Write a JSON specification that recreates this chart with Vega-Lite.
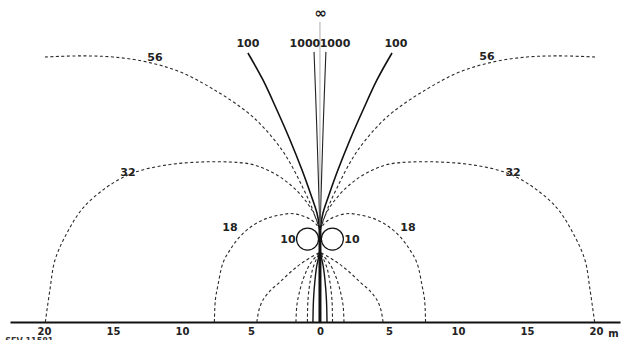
{
  "$schema": "https://vega.github.io/schema/vega-lite/v6.json",
  "width": 610,
  "height": 322,
  "autosize": {"type": "none"},
  "padding": {"left": 10, "top": 0, "right": 6, "bottom": 18},
  "background": "white",
  "config": {"view": {"stroke": null}},
  "datasets": {
    "curves": [
      {"c":"56L","k":"dash","o":1,"x":-19.93,"y":19.20},{"c":"56L","k":"dash","o":2,"x":-17.39,"y":19.28},{"c":"56L","k":"dash","o":3,"x":-15.00,"y":19.20},{"c":"56L","k":"dash","o":4,"x":-12.54,"y":18.84},{"c":"56L","k":"dash","o":5,"x":-10.14,"y":18.12},{"c":"56L","k":"dash","o":6,"x":-7.75,"y":16.88},{"c":"56L","k":"dash","o":7,"x":-5.29,"y":15.22},{"c":"56L","k":"dash","o":8,"x":-3.99,"y":13.99},{"c":"56L","k":"dash","o":9,"x":-2.75,"y":12.46},{"c":"56L","k":"dash","o":10,"x":-1.96,"y":11.16},{"c":"56L","k":"dash","o":11,"x":-1.23,"y":9.71},{"c":"56L","k":"dash","o":12,"x":-0.72,"y":8.62},{"c":"56L","k":"dash","o":13,"x":-0.36,"y":7.68},{"c":"56L","k":"dash","o":14,"x":0,"y":6.67},
      {"c":"56R","k":"dash","o":1,"x":19.93,"y":19.20},{"c":"56R","k":"dash","o":2,"x":17.39,"y":19.28},{"c":"56R","k":"dash","o":3,"x":15.00,"y":19.20},{"c":"56R","k":"dash","o":4,"x":12.54,"y":18.84},{"c":"56R","k":"dash","o":5,"x":10.14,"y":18.12},{"c":"56R","k":"dash","o":6,"x":7.75,"y":16.88},{"c":"56R","k":"dash","o":7,"x":5.29,"y":15.22},{"c":"56R","k":"dash","o":8,"x":3.99,"y":13.99},{"c":"56R","k":"dash","o":9,"x":2.75,"y":12.46},{"c":"56R","k":"dash","o":10,"x":1.96,"y":11.16},{"c":"56R","k":"dash","o":11,"x":1.23,"y":9.71},{"c":"56R","k":"dash","o":12,"x":0.72,"y":8.62},{"c":"56R","k":"dash","o":13,"x":0.36,"y":7.68},{"c":"56R","k":"dash","o":14,"x":0,"y":6.67},
      {"c":"32L","k":"dash","o":1,"x":-19.9,"y":0},{"c":"32L","k":"dash","o":2,"x":-19.57,"y":2.32},{"c":"32L","k":"dash","o":3,"x":-19.20,"y":4.49},{"c":"32L","k":"dash","o":4,"x":-18.33,"y":6.45},{"c":"32L","k":"dash","o":5,"x":-17.17,"y":8.26},{"c":"32L","k":"dash","o":6,"x":-15.43,"y":9.78},{"c":"32L","k":"dash","o":7,"x":-13.55,"y":10.80},{"c":"32L","k":"dash","o":8,"x":-11.09,"y":11.38},{"c":"32L","k":"dash","o":9,"x":-8.70,"y":11.59},{"c":"32L","k":"dash","o":10,"x":-6.52,"y":11.59},{"c":"32L","k":"dash","o":11,"x":-5.07,"y":11.45},{"c":"32L","k":"dash","o":12,"x":-3.99,"y":11.09},{"c":"32L","k":"dash","o":13,"x":-2.90,"y":10.51},{"c":"32L","k":"dash","o":14,"x":-1.96,"y":9.78},{"c":"32L","k":"dash","o":15,"x":-1.09,"y":8.84},{"c":"32L","k":"dash","o":16,"x":-0.43,"y":7.83},{"c":"32L","k":"dash","o":17,"x":0,"y":6.67},
      {"c":"32R","k":"dash","o":1,"x":19.9,"y":0},{"c":"32R","k":"dash","o":2,"x":19.57,"y":2.32},{"c":"32R","k":"dash","o":3,"x":19.20,"y":4.49},{"c":"32R","k":"dash","o":4,"x":18.33,"y":6.45},{"c":"32R","k":"dash","o":5,"x":17.17,"y":8.26},{"c":"32R","k":"dash","o":6,"x":15.43,"y":9.78},{"c":"32R","k":"dash","o":7,"x":13.55,"y":10.80},{"c":"32R","k":"dash","o":8,"x":11.09,"y":11.38},{"c":"32R","k":"dash","o":9,"x":8.70,"y":11.59},{"c":"32R","k":"dash","o":10,"x":6.52,"y":11.59},{"c":"32R","k":"dash","o":11,"x":5.07,"y":11.45},{"c":"32R","k":"dash","o":12,"x":3.99,"y":11.09},{"c":"32R","k":"dash","o":13,"x":2.90,"y":10.51},{"c":"32R","k":"dash","o":14,"x":1.96,"y":9.78},{"c":"32R","k":"dash","o":15,"x":1.09,"y":8.84},{"c":"32R","k":"dash","o":16,"x":0.43,"y":7.83},{"c":"32R","k":"dash","o":17,"x":0,"y":6.67},
      {"c":"18L","k":"dash","o":1,"x":-7.65,"y":0},{"c":"18L","k":"dash","o":2,"x":-7.58,"y":1.59},{"c":"18L","k":"dash","o":3,"x":-7.39,"y":2.68},{"c":"18L","k":"dash","o":4,"x":-7.03,"y":4.28},{"c":"18L","k":"dash","o":5,"x":-6.52,"y":5.22},{"c":"18L","k":"dash","o":6,"x":-6.01,"y":5.94},{"c":"18L","k":"dash","o":7,"x":-5.29,"y":6.67},{"c":"18L","k":"dash","o":8,"x":-4.57,"y":7.17},{"c":"18L","k":"dash","o":9,"x":-3.77,"y":7.54},{"c":"18L","k":"dash","o":10,"x":-2.90,"y":7.75},{"c":"18L","k":"dash","o":11,"x":-2.17,"y":7.86},{"c":"18L","k":"dash","o":12,"x":-1.45,"y":7.75},{"c":"18L","k":"dash","o":13,"x":-0.72,"y":7.46},{"c":"18L","k":"dash","o":14,"x":-0.29,"y":7.10},{"c":"18L","k":"dash","o":15,"x":0,"y":6.67},
      {"c":"18R","k":"dash","o":1,"x":7.65,"y":0},{"c":"18R","k":"dash","o":2,"x":7.58,"y":1.59},{"c":"18R","k":"dash","o":3,"x":7.39,"y":2.68},{"c":"18R","k":"dash","o":4,"x":7.03,"y":4.28},{"c":"18R","k":"dash","o":5,"x":6.52,"y":5.22},{"c":"18R","k":"dash","o":6,"x":6.01,"y":5.94},{"c":"18R","k":"dash","o":7,"x":5.29,"y":6.67},{"c":"18R","k":"dash","o":8,"x":4.57,"y":7.17},{"c":"18R","k":"dash","o":9,"x":3.77,"y":7.54},{"c":"18R","k":"dash","o":10,"x":2.90,"y":7.75},{"c":"18R","k":"dash","o":11,"x":2.17,"y":7.86},{"c":"18R","k":"dash","o":12,"x":1.45,"y":7.75},{"c":"18R","k":"dash","o":13,"x":0.72,"y":7.46},{"c":"18R","k":"dash","o":14,"x":0.29,"y":7.10},{"c":"18R","k":"dash","o":15,"x":0,"y":6.67},
      {"c":"g46L","k":"dash","o":1,"x":-4.57,"y":0},{"c":"g46L","k":"dash","o":2,"x":-4.42,"y":0.87},{"c":"g46L","k":"dash","o":3,"x":-4.13,"y":1.59},{"c":"g46L","k":"dash","o":4,"x":-3.62,"y":2.25},{"c":"g46L","k":"dash","o":5,"x":-2.90,"y":2.90},{"c":"g46L","k":"dash","o":6,"x":-1.96,"y":3.77},{"c":"g46L","k":"dash","o":7,"x":-1.09,"y":4.42},{"c":"g46L","k":"dash","o":8,"x":0,"y":5.07},
      {"c":"g46R","k":"dash","o":1,"x":4.57,"y":0},{"c":"g46R","k":"dash","o":2,"x":4.42,"y":0.87},{"c":"g46R","k":"dash","o":3,"x":4.13,"y":1.59},{"c":"g46R","k":"dash","o":4,"x":3.62,"y":2.25},{"c":"g46R","k":"dash","o":5,"x":2.90,"y":2.90},{"c":"g46R","k":"dash","o":6,"x":1.96,"y":3.77},{"c":"g46R","k":"dash","o":7,"x":1.09,"y":4.42},{"c":"g46R","k":"dash","o":8,"x":0,"y":5.07},
      {"c":"g17L","k":"dash","o":1,"x":-1.74,"y":0},{"c":"g17L","k":"dash","o":2,"x":-1.67,"y":1.23},{"c":"g17L","k":"dash","o":3,"x":-1.45,"y":2.32},{"c":"g17L","k":"dash","o":4,"x":-1.16,"y":3.26},{"c":"g17L","k":"dash","o":5,"x":-0.72,"y":4.20},{"c":"g17L","k":"dash","o":6,"x":0,"y":5.07},
      {"c":"g17R","k":"dash","o":1,"x":1.74,"y":0},{"c":"g17R","k":"dash","o":2,"x":1.67,"y":1.23},{"c":"g17R","k":"dash","o":3,"x":1.45,"y":2.32},{"c":"g17R","k":"dash","o":4,"x":1.16,"y":3.26},{"c":"g17R","k":"dash","o":5,"x":0.72,"y":4.20},{"c":"g17R","k":"dash","o":6,"x":0,"y":5.07},
      {"c":"g09L","k":"dash","o":1,"x":-0.91,"y":0},{"c":"g09L","k":"dash","o":2,"x":-0.87,"y":1.59},{"c":"g09L","k":"dash","o":3,"x":-0.72,"y":2.90},{"c":"g09L","k":"dash","o":4,"x":-0.51,"y":3.91},{"c":"g09L","k":"dash","o":5,"x":-0.22,"y":4.64},{"c":"g09L","k":"dash","o":6,"x":0,"y":5.07},
      {"c":"g09R","k":"dash","o":1,"x":0.91,"y":0},{"c":"g09R","k":"dash","o":2,"x":0.87,"y":1.59},{"c":"g09R","k":"dash","o":3,"x":0.72,"y":2.90},{"c":"g09R","k":"dash","o":4,"x":0.51,"y":3.91},{"c":"g09R","k":"dash","o":5,"x":0.22,"y":4.64},{"c":"g09R","k":"dash","o":6,"x":0,"y":5.07},
      {"c":"100L","k":"s100","o":1,"x":-5.22,"y":19.49},{"c":"100L","k":"s100","o":2,"x":-4.13,"y":17.54},{"c":"100L","k":"s100","o":3,"x":-3.12,"y":15.36},{"c":"100L","k":"s100","o":4,"x":-2.17,"y":13.19},{"c":"100L","k":"s100","o":5,"x":-1.30,"y":11.01},{"c":"100L","k":"s100","o":6,"x":-0.65,"y":9.20},{"c":"100L","k":"s100","o":7,"x":-0.22,"y":7.90},{"c":"100L","k":"s100","o":8,"x":0,"y":6.67},
      {"c":"100R","k":"s100","o":1,"x":5.22,"y":19.49},{"c":"100R","k":"s100","o":2,"x":4.13,"y":17.54},{"c":"100R","k":"s100","o":3,"x":3.12,"y":15.36},{"c":"100R","k":"s100","o":4,"x":2.17,"y":13.19},{"c":"100R","k":"s100","o":5,"x":1.30,"y":11.01},{"c":"100R","k":"s100","o":6,"x":0.65,"y":9.20},{"c":"100R","k":"s100","o":7,"x":0.22,"y":7.90},{"c":"100R","k":"s100","o":8,"x":0,"y":6.67},
      {"c":"1000L","k":"s1000","o":1,"x":-0.43,"y":19.57},{"c":"1000L","k":"s1000","o":2,"x":-0.25,"y":14.64},{"c":"1000L","k":"s1000","o":3,"x":-0.09,"y":9.57},{"c":"1000L","k":"s1000","o":4,"x":0,"y":6.67},
      {"c":"1000R","k":"s1000","o":1,"x":0.43,"y":19.57},{"c":"1000R","k":"s1000","o":2,"x":0.25,"y":14.64},{"c":"1000R","k":"s1000","o":3,"x":0.09,"y":9.57},{"c":"1000R","k":"s1000","o":4,"x":0,"y":6.67},
      {"c":"inf","k":"inf","o":1,"x":0,"y":21.74},{"c":"inf","k":"inf","o":2,"x":0,"y":6.67},
      {"c":"g05L","k":"s05","o":1,"x":-0.51,"y":0},{"c":"g05L","k":"s05","o":2,"x":-0.47,"y":1.59},{"c":"g05L","k":"s05","o":3,"x":-0.36,"y":3.04},{"c":"g05L","k":"s05","o":4,"x":-0.22,"y":4.13},{"c":"g05L","k":"s05","o":5,"x":0,"y":5.07},
      {"c":"g05R","k":"s05","o":1,"x":0.51,"y":0},{"c":"g05R","k":"s05","o":2,"x":0.47,"y":1.59},{"c":"g05R","k":"s05","o":3,"x":0.36,"y":3.04},{"c":"g05R","k":"s05","o":4,"x":0.22,"y":4.13},{"c":"g05R","k":"s05","o":5,"x":0,"y":5.07},
      {"c":"ctr","k":"ctr","o":1,"x":0,"y":0},{"c":"ctr","k":"ctr","o":2,"x":0,"y":7.0}
    ],
    "circles": [
      {"x": -0.9, "y": 6.01},
      {"x": 0.9, "y": 6.01}
    ],
    "labels": [
      {"t": "100", "x": -5.22, "y": 20.14},
      {"t": "100", "x": 5.5, "y": 20.14},
      {"t": "1000", "x": -1.09, "y": 20.14},
      {"t": "1000", "x": 1.09, "y": 20.14},
      {"t": "56", "x": -11.96, "y": 19.13},
      {"t": "56", "x": 12.1, "y": 19.2},
      {"t": "32", "x": -13.91, "y": 10.8},
      {"t": "32", "x": 13.99, "y": 10.8},
      {"t": "18", "x": -6.52, "y": 6.81},
      {"t": "18", "x": 6.38, "y": 6.81},
      {"t": "10", "x": -2.32, "y": 5.94},
      {"t": "10", "x": 2.32, "y": 5.94}
    ],
    "inflabel": [
      {"t": "∞", "x": 0.05, "y": 22.4}
    ],
    "note": [
      {"t": "SEV 11581", "x": -22.8, "y": -1.15}
    ]
  },
  "encoding": {
    "x": {
      "field": "x", "type": "quantitative",
      "scale": {"domain": [-22.46, 21.74], "nice": false, "zero": false},
      "axis": {
        "values": [-20, -15, -10, -5, 0, 5, 10, 15, 20],
        "labelExpr": "'' + abs(datum.value)",
        "grid": false, "ticks": false,
        "domainColor": "#111", "domainWidth": 2,
        "labelFont": "DejaVu Sans", "labelFontSize": 10, "labelFontWeight": "bold", "labelColor": "#222",
        "labelPadding": 4,
        "title": "m", "titleX": 603, "titleY": 11, "titleBaseline": "middle", "titleAlign": "center",
        "titleFont": "DejaVu Sans", "titleFontSize": 10, "titleFontWeight": "bold", "titleColor": "#222"
      }
    },
    "y": {
      "field": "y", "type": "quantitative",
      "scale": {"domain": [0, 23.33], "nice": false, "zero": false},
      "axis": null
    }
  },
  "layer": [
    {
      "data": {"name": "curves"},
      "transform": [{"filter": "datum.k == 'dash'"}],
      "mark": {"type": "line", "color": "#2a2a2a", "strokeWidth": 1.1, "strokeDash": [3, 2.5], "interpolate": "catmull-rom"},
      "encoding": {"detail": {"field": "c"}, "order": {"field": "o", "type": "quantitative"}}
    },
    {
      "data": {"name": "curves"},
      "transform": [{"filter": "datum.k == 's100'"}],
      "mark": {"type": "line", "color": "#111", "strokeWidth": 1.6, "interpolate": "catmull-rom"},
      "encoding": {"detail": {"field": "c"}, "order": {"field": "o", "type": "quantitative"}}
    },
    {
      "data": {"name": "curves"},
      "transform": [{"filter": "datum.k == 's1000'"}],
      "mark": {"type": "line", "color": "#222", "strokeWidth": 1.1, "interpolate": "catmull-rom"},
      "encoding": {"detail": {"field": "c"}, "order": {"field": "o", "type": "quantitative"}}
    },
    {
      "data": {"name": "curves"},
      "transform": [{"filter": "datum.k == 'inf'"}],
      "mark": {"type": "line", "color": "#999", "strokeWidth": 0.8},
      "encoding": {"detail": {"field": "c"}, "order": {"field": "o", "type": "quantitative"}}
    },
    {
      "data": {"name": "curves"},
      "transform": [{"filter": "datum.k == 's05'"}],
      "mark": {"type": "line", "color": "#111", "strokeWidth": 1.4, "interpolate": "catmull-rom"},
      "encoding": {"detail": {"field": "c"}, "order": {"field": "o", "type": "quantitative"}}
    },
    {
      "data": {"name": "curves"},
      "transform": [{"filter": "datum.k == 'ctr'"}],
      "mark": {"type": "line", "color": "#111", "strokeWidth": 3},
      "encoding": {"detail": {"field": "c"}, "order": {"field": "o", "type": "quantitative"}}
    },
    {
      "data": {"name": "circles"},
      "mark": {"type": "point", "shape": "circle", "filled": false, "size": 484, "stroke": "#111", "strokeWidth": 1.2, "opacity": 1}
    },
    {
      "data": {"name": "labels"},
      "mark": {"type": "text", "font": "DejaVu Sans", "fontSize": 11, "fontWeight": "bold", "color": "#222", "align": "center", "baseline": "middle"},
      "encoding": {"text": {"field": "t"}}
    },
    {
      "data": {"name": "inflabel"},
      "mark": {"type": "text", "font": "DejaVu Sans", "fontSize": 15, "fontWeight": "bold", "color": "#222", "align": "center", "baseline": "middle"},
      "encoding": {"text": {"field": "t"}}
    },
    {
      "data": {"name": "note"},
      "mark": {"type": "text", "font": "DejaVu Sans", "fontSize": 8, "fontWeight": "bold", "color": "#333", "align": "left", "baseline": "top", "clip": false},
      "encoding": {"text": {"field": "t"}}
    }
  ]
}
